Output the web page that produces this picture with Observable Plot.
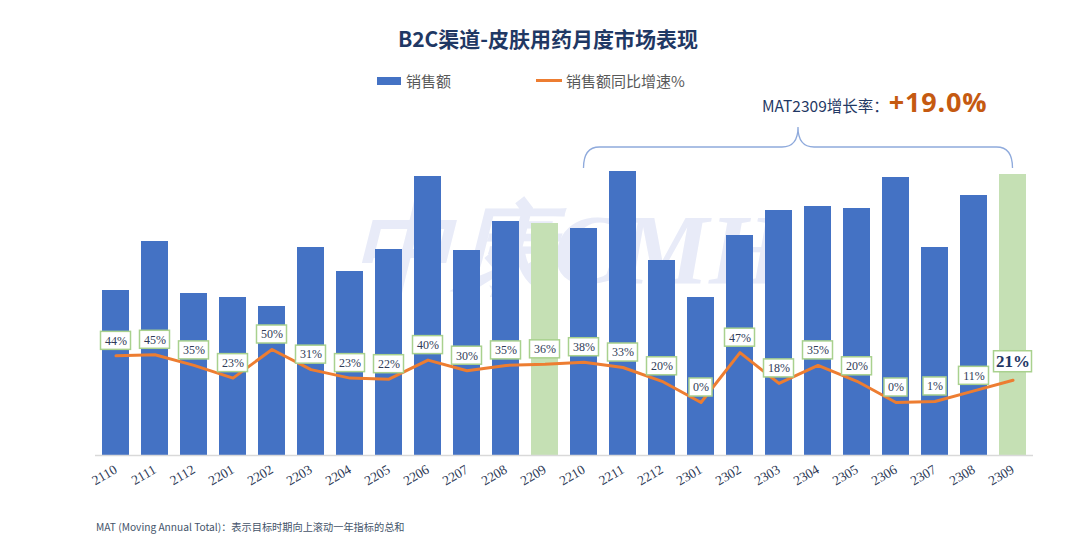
<!DOCTYPE html>
<html><head><meta charset="utf-8">
<script src="https://cdn.jsdelivr.net/npm/d3@7"></script>
<script src="https://cdn.jsdelivr.net/npm/@observablehq/plot@0.6"></script>
<style>
body{margin:0;background:#fff;width:1080px;height:541px;position:relative;overflow:hidden;font-family:"Noto Sans CJK SC","Noto Sans",sans-serif;}
.abs{position:absolute;white-space:nowrap;}
</style></head>
<body>
<div class="abs" style="left:0;width:1096px;top:24px;text-align:center;font-size:21px;font-weight:bold;color:#1f3864;line-height:28px;">B2C渠道-皮肤用药月度市场表现</div>
<div class="abs" style="left:377px;top:71px;font-size:15px;color:#595959;line-height:20px;">
  <span style="display:inline-block;width:24px;height:8px;background:#4472c4;vertical-align:middle;margin-right:5px;position:relative;top:-2px;"></span>销售额
</div>
<div class="abs" style="left:536px;top:71px;font-size:15px;color:#595959;line-height:20px;">
  <span style="display:inline-block;width:26px;height:3px;background:#ed7d31;vertical-align:middle;margin-right:4px;position:relative;top:-2px;"></span>销售额同比增速%
</div>
<div class="abs" style="left:762px;top:86px;line-height:32px;color:#1f3864;font-size:15.5px;">MAT2309增长率：<span style="color:#c55a11;font-size:27px;font-weight:bold;letter-spacing:0.8px;font-family:'Open Sans','Noto Sans',sans-serif;">+19.0%</span></div>
<div id="chart" class="abs" style="left:0;top:90px;"></div>
<div class="abs" style="left:96px;top:519px;font-size:10.2px;color:#44546a;line-height:16px;">MAT (Moving Annual Total)：表示目标时期向上滚动一年指标的总和</div>
<script>
const months = ["2110","2111","2112","2201","2202","2203","2204","2205","2206","2207","2208","2209","2210","2211","2212","2301","2302","2303","2304","2305","2306","2307","2308","2309"];
const sales = [16.5, 21.4, 16.2, 15.8, 14.9, 20.8, 18.4, 20.6, 27.9, 20.5, 23.4, 23.2, 22.7, 28.4, 19.5, 15.8, 22.0, 24.5, 24.9, 24.7, 27.8, 20.8, 26.0, 28.1];
const growth = [44, 45, 35, 23, 50, 31, 23, 22, 40, 30, 35, 36, 38, 33, 20, 0, 47, 18, 35, 20, 0, 1, 11, 21];
const highlightMonths = ["2209", "2309"];
const matStart = "2210", matEnd = "2309";

// secondary (right) axis mapping for growth onto the sales y scale
const g2y = d3.scaleLinear().domain([0, 50]).range([5.3, 10.6]);

const data = months.map((m, i) => ({
  month: m, sales: sales[i], growth: growth[i], gy: g2y(growth[i]),
  hl: highlightMonths.includes(m), last: m === matEnd
}));
const normal = data.filter(d => !d.last);
const short = normal.filter(d => String(d.growth).length < 2);
const long = normal.filter(d => String(d.growth).length >= 2);
const lastD = data.filter(d => d.last);

function brace(index, scales) {
  const x = scales.x, y = scales.y;
  const bw = typeof x.bandwidth === "function" ? x.bandwidth() : (x.bandwidth || 0);
  const xL = x(matStart) + bw / 2, xR = x(matEnd) + bw / 2, xM = (xL + xR) / 2;
  const yE = y(28.7), yM = y(30.8), yP = y(32.8);
  const r = 16;
  const d = `M${xL},${yE} Q${xL},${yM} ${xL + r},${yM} L${xM - r},${yM} Q${xM},${yM} ${xM},${yP} Q${xM},${yM} ${xM + r},${yM} L${xR - r},${yM} Q${xR},${yM} ${xR},${yE}`;
  const p = document.createElementNS("http://www.w3.org/2000/svg", "path");
  p.setAttribute("d", d);
  p.setAttribute("fill", "none");
  p.setAttribute("stroke", "#8faadc");
  p.setAttribute("stroke-width", "1.3");
  return p;
}

const serif = "'Liberation Serif','DejaVu Serif',serif";
const chart = Plot.plot({
  width: 1080, height: 420,
  marginLeft: 90, marginRight: 41, marginTop: 65, marginBottom: 55,
  style: {fontFamily: serif, fontSize: "13.5px", color: "#2f3b57", background: "transparent", overflow: "visible"},
  x: {domain: months, padding: 0.3, tickRotate: -30, tickSize: 0, tickPadding: 13, label: null},
  y: {domain: [0, 30], axis: null},
  marks: [
    Plot.text(["中康CMH"], {frameAnchor: "middle", text: d => d, dx: 5, dy: -55, fontSize: 100, fontStyle: "italic", fontFamily: serif, fill: "#e8ebf8", fontWeight: "bold"}),
    Plot.barY(data, {x: "month", y: "sales", fill: d => d.hl ? "#c5e0b4" : "#4472c4"}),
    Plot.ruleY([0], {stroke: "#d9d9d9", strokeWidth: 1.5, insetLeft: 5, insetRight: 6}),
    Plot.line(data, {x: "month", y: "gy", stroke: "#ed7d31", strokeWidth: 3, curve: "linear"}),
    Plot.barY(long, {x: "month", y1: d => d.gy + 0.6, y2: d => d.gy + 2.4, fill: "white", stroke: "#a9d18e", strokeWidth: 1.5, insetLeft: -1.5, insetRight: -1.5}),
    Plot.barY(short, {x: "month", y1: d => d.gy + 0.6, y2: d => d.gy + 2.4, fill: "white", stroke: "#a9d18e", strokeWidth: 1.5, insetLeft: 2, insetRight: 2}),
    Plot.barY(lastD, {x: "month", y1: d => d.gy + 0.8, y2: d => d.gy + 2.9, fill: "white", stroke: "#a9d18e", strokeWidth: 1.5, insetLeft: -5.5, insetRight: -5.5}),
    Plot.text(normal, {x: "month", y: d => d.gy + 1.5, text: d => d.growth + "%", fontFamily: serif, fontSize: 12, fill: "#2f3b57"}),
    Plot.text(lastD, {x: "month", y: d => d.gy + 1.85, text: d => d.growth + "%", fontFamily: serif, fontSize: 17, fontWeight: "bold", fill: "#1f3864"}),
    brace
  ]
});
document.getElementById("chart").appendChild(chart);
</script>
</body></html>
